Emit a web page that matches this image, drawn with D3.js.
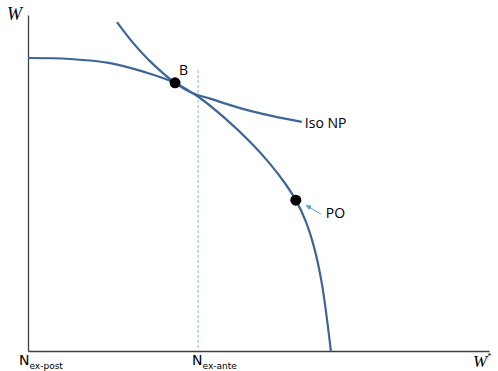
<!DOCTYPE html>
<html>
<head>
<meta charset="utf-8">
<script src="https://d3js.org/d3.v7.min.js"></script>
<style>
  body { margin: 0; background: #fff; }
  .lbl { font-family: "Open Sans", sans-serif; fill: #000; }
  .ax-title { font-family: "Liberation Serif", serif; font-style: italic; fill: #000; }
  .axis .domain { stroke: #404040; stroke-width: 1.3; }
</style>
</head>
<body>
<svg id="chart" width="498" height="371"></svg>
<script>
// --- data (W* on x, W on y, arbitrary units 0-100)
const frontierX = [0, 9.1, 17.8, 25.4, 31.9, 37.3, 42.7, 48.2, 52.5, 55.7, 58.1, 60.3, 62.2, 63.8, 65.7];
const frontierY = [87.2, 86.9, 85.7, 83.0, 79.8, 75.3, 69.3, 62.2, 55.7, 50.0, 44.9, 38.4, 30.1, 19.6, 0];

const isoX = [19.3, 22.8, 26.5, 31.9, 35.6, 39.5, 46.0, 53.1, 59.4];
const isoY = [97.9, 91.7, 86.2, 79.8, 76.8, 75.1, 72.3, 69.9, 68.2];

const pointNames = ['B', 'PO'];
const pointX = [31.9, 58.1];
const pointY = [79.8, 44.9];

const nExAnte = 36.9;   // dashed line position
const nExAnteTop = 83.6;

const svg = d3.select('#chart');
const margins = { left: 28, right: 9, top: 15, bottom: 20 };
const width = +svg.attr('width');
const height = +svg.attr('height');

const x = d3.scaleLinear().domain([0, 100]).range([margins.left, width - margins.right]);
const y = d3.scaleLinear().domain([0, 100]).range([height - margins.bottom, margins.top]);

// axes, no ticks
svg.append('g')
  .attr('class', 'axis')
  .attr('transform', `translate(0,${y(0)})`)
  .call(d3.axisBottom(x).tickValues([]).tickSizeOuter(0));
svg.append('g')
  .attr('class', 'axis')
  .attr('transform', `translate(${x(0)},0)`)
  .call(d3.axisLeft(y).tickValues([]).tickSizeOuter(0));

// dashed vertical line at N ex-ante
svg.append('line')
  .attr('x1', x(nExAnte)).attr('x2', x(nExAnte))
  .attr('y1', y(nExAnteTop)).attr('y2', y(0))
  .attr('stroke', '#9dc3e6')
  .attr('stroke-width', 1.2)
  .attr('stroke-dasharray', '3,2');

const line = d3.line()
  .x(d => x(d[0]))
  .y(d => y(d[1]))
  .curve(d3.curveCatmullRom.alpha(0.5));

svg.append('path')
  .datum(frontierX.map((v, i) => [v, frontierY[i]]))
  .attr('d', line)
  .attr('fill', 'none')
  .attr('stroke', '#3e6597')
  .attr('stroke-width', 2.2);

svg.append('path')
  .datum(isoX.map((v, i) => [v, isoY[i]]))
  .attr('d', line)
  .attr('fill', 'none')
  .attr('stroke', '#3e6597')
  .attr('stroke-width', 2.2);

// points
pointX.forEach((px, i) => {
  svg.append('circle')
    .attr('cx', x(px))
    .attr('cy', y(pointY[i]))
    .attr('r', 5.5)
    .attr('fill', '#000');
});

// labels
svg.append('text').attr('class', 'lbl')
  .attr('x', x(pointX[0]) + 4).attr('y', y(pointY[0]) - 8)
  .attr('font-size', 14).text(pointNames[0]);

svg.append('text').attr('class', 'lbl')
  .attr('x', x(isoX[isoX.length - 1]) + 3).attr('y', y(isoY[isoY.length - 1]) + 6)
  .attr('font-size', 14).text('Iso NP');

svg.append('text').attr('class', 'lbl')
  .attr('x', x(pointX[1]) + 30).attr('y', y(pointY[1]) + 18)
  .attr('font-size', 14).text(pointNames[1]);

// small arrow pointing at PO
svg.append('defs').append('marker')
  .attr('id', 'arr')
  .attr('viewBox', '0 0 10 10')
  .attr('refX', 9).attr('refY', 5)
  .attr('markerWidth', 6).attr('markerHeight', 6)
  .attr('orient', 'auto')
  .append('path').attr('d', 'M0,1 L10,5 L0,9 z').attr('fill', '#5b9bd5');

svg.append('line')
  .attr('x1', x(pointX[1]) + 25).attr('y1', y(pointY[1]) + 14)
  .attr('x2', x(pointX[1]) + 10).attr('y2', y(pointY[1]) + 5)
  .attr('stroke', '#5b9bd5')
  .attr('stroke-width', 1)
  .attr('marker-end', 'url(#arr)');

// axis titles
svg.append('text').attr('class', 'ax-title')
  .attr('x', 7).attr('y', 20).attr('font-size', 18).text('W');

svg.append('text').attr('class', 'ax-title')
  .attr('x', 473).attr('y', 367).attr('font-size', 17).text('W');
svg.append('text').attr('class', 'ax-title')
  .attr('x', 487).attr('y', 359).attr('font-size', 8).text('*');

// N labels on the x axis
function nLabel(px, sub) {
  const t = svg.append('text').attr('class', 'lbl')
    .attr('x', px).attr('y', 365).attr('font-size', 14)
    .style('font-family', '"DejaVu Sans", sans-serif');
  t.append('tspan').text('N');
  t.append('tspan').attr('font-size', 9).attr('dy', 4).text(sub);
}
nLabel(x(0) - 9, 'ex-post');
nLabel(x(nExAnte) - 6, 'ex-ante');
</script>
</body>
</html>
